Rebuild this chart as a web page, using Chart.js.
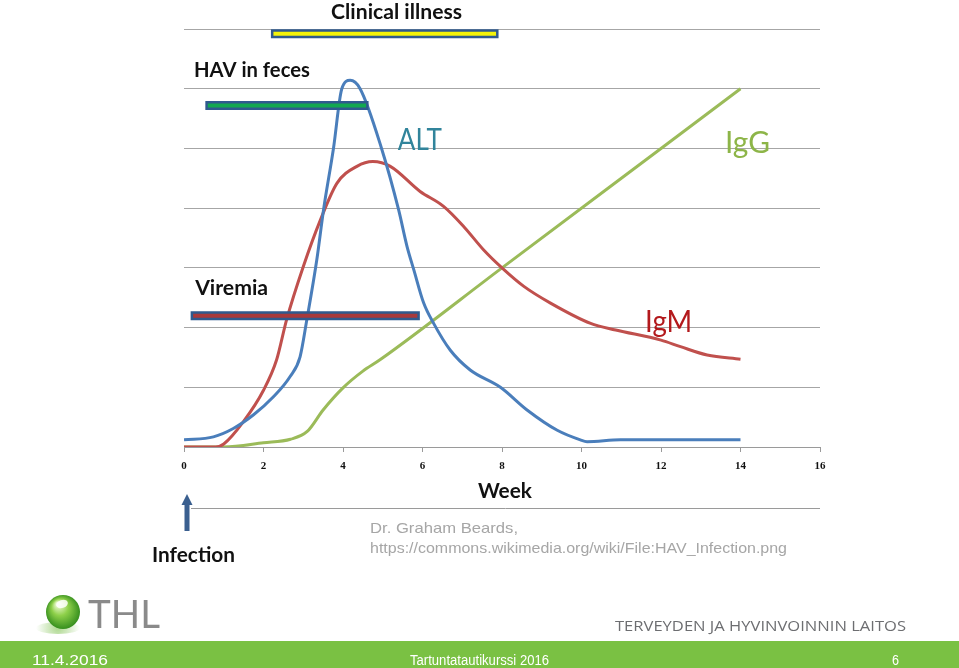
<!DOCTYPE html>
<html>
<head>
<meta charset="utf-8">
<script src="https://cdn.jsdelivr.net/npm/chart.js@4.4.1/dist/chart.umd.min.js"></script>
<style>
  html, body { margin: 0; padding: 0; background: #fff; }
  #wrap { position: relative; width: 959px; height: 668px; }
</style>
</head>
<body>
<div id="wrap"><canvas id="myChart"></canvas></div>
<script>
// weeks after infection / relative level
const altWeeks  = [0, 0.74, 1.24, 1.75, 2.25, 2.67, 2.92, 3.09, 3.34, 3.51, 3.76, 3.97, 4.18, 4.43, 4.97, 5.4, 5.61, 5.78, 6.03, 6.28, 6.7, 7.2, 7.96, 8.63, 9.39, 9.97, 10.14, 10.98, 12, 13, 14];
const altValues = [0.12, 0.17, 0.31, 0.54, 0.84, 1.18, 1.51, 2.13, 3.13, 3.97, 5.0, 6.0, 6.14, 6.0, 5.0, 3.97, 3.36, 2.97, 2.41, 2.07, 1.62, 1.29, 1.0, 0.62, 0.28, 0.12, 0.09, 0.12, 0.12, 0.12, 0.12];

const igmWeeks  = [0, 0.8, 1.0, 1.49, 2.0, 2.33, 2.58, 3.0, 3.43, 3.85, 4.35, 4.75, 5.19, 5.94, 6.53, 7.04, 7.54, 8.0, 8.55, 9.22, 10.23, 10.86, 12.0, 12.49, 13.16, 14];
const igmValues = [0, 0, 0.05, 0.42, 0.95, 1.46, 2.13, 3.02, 3.8, 4.42, 4.7, 4.78, 4.7, 4.28, 4.03, 3.69, 3.3, 3.0, 2.69, 2.41, 2.07, 1.96, 1.79, 1.68, 1.54, 1.47];

const iggWeeks  = [0, 1, 2, 2.68, 3.1, 3.5, 4, 4.5, 4.93, 8, 12, 14];
const iggValues = [0, 0, 0.07, 0.13, 0.26, 0.62, 0.99, 1.27, 1.46, 3.0, 5.0, 6.0];

// phase bars: clinical illness, HAV in feces, viremia
const barNames  = ['Clinical illness', 'HAV in feces', 'Viremia'];
const barStart  = [2.3, 0.65, 0.28];
const barEnd    = [7.8, 4.53, 5.82];
const barLevel  = [6.92, 5.72, 2.2];
const barColors = ['#F4F40A', '#12A850', '#A8393B'];

const xTicks = [0, 2, 4, 6, 8, 10, 12, 14, 16];

function pts(xs, ys) {
    return xs.map(function (x, i) { return { x: x, y: ys[i] }; });
}

// text squeezed/stretched to a given width (the slide used Calibri)
function fitText(ctx, text, x, y, font, color, width) {
    ctx.save();
    ctx.font = font;
    var w = ctx.measureText(text).width;
    var s = width ? width / w : 1;
    ctx.translate(x, y);
    ctx.scale(s, 1);
    ctx.fillStyle = color;
    ctx.textAlign = 'left';
    ctx.textBaseline = 'alphabetic';
    ctx.fillText(text, 0, 0);
    ctx.restore();
}

var datasets = [];
barNames.forEach(function (name, i) {
    datasets.push({
        label: name,
        data: [{ x: barStart[i], y: barLevel[i] }, { x: barEnd[i], y: barLevel[i] }],
        borderColor: barColors[i],
        borderWidth: 4,
        borderCapStyle: 'square',
        pointRadius: 0
    });
});
barNames.forEach(function (name, i) {
    datasets.push({
        label: name + ' border',
        data: [{ x: barStart[i], y: barLevel[i] }, { x: barEnd[i], y: barLevel[i] }],
        borderColor: '#2F5A8E',
        borderWidth: 9,
        borderCapStyle: 'square',
        pointRadius: 0
    });
});
datasets.push({ label: 'ALT', data: pts(altWeeks, altValues), borderColor: '#4A7EBB', borderWidth: 3, pointRadius: 0, cubicInterpolationMode: 'monotone' });
datasets.push({ label: 'IgM', data: pts(igmWeeks, igmValues), borderColor: '#C0504D', borderWidth: 3, pointRadius: 0, cubicInterpolationMode: 'monotone' });
datasets.push({ label: 'IgG', data: pts(iggWeeks, iggValues), borderColor: '#9BBB59', borderWidth: 3, pointRadius: 0, cubicInterpolationMode: 'monotone' });

// labels, arrow, source note and the THL footer
var slideText = {
    id: 'slideText',
    afterDraw: function (chart) {
        var ctx = chart.ctx;
        var x = chart.scales.x, y = chart.scales.y;
        var bold = 'bold 20px Lato';

        fitText(ctx, 'Clinical illness', x.getPixelForValue(3.7), y.getPixelForValue(7.16), bold, '#111', 131);
        fitText(ctx, 'HAV in feces', x.getPixelForValue(0.25), y.getPixelForValue(6.2), bold, '#111', 116);
        fitText(ctx, 'Viremia', x.getPixelForValue(0.28), y.getPixelForValue(2.55), bold, '#111', 73);
        fitText(ctx, 'ALT', x.getPixelForValue(5.38), y.getPixelForValue(4.97), '30px Lato', '#31849B', 44);
        fitText(ctx, 'IgG', x.getPixelForValue(13.61), y.getPixelForValue(4.93), '30px Lato', '#8DB548', 45);
        fitText(ctx, 'IgM', x.getPixelForValue(11.6), y.getPixelForValue(1.93), '30px Lato', '#B3191C', 47);

        fitText(ctx, 'Week', 478, 498, bold, '#111', 54);
        fitText(ctx, 'Infection', 152, 562, bold, '#111', 83);

        // infection arrow
        ctx.save();
        ctx.fillStyle = '#3A5F8F';
        ctx.fillRect(x.getPixelForValue(0) + 0.5, 504, 5, 27);
        ctx.beginPath();
        ctx.moveTo(x.getPixelForValue(0) - 2.5, 505);
        ctx.lineTo(x.getPixelForValue(0) + 3, 494);
        ctx.lineTo(x.getPixelForValue(0) + 8.5, 505);
        ctx.closePath();
        ctx.fill();
        ctx.restore();

        // light rule under the axis title
        ctx.save();
        ctx.strokeStyle = '#9A9A9A';
        ctx.lineWidth = 1;
        ctx.beginPath();
        ctx.moveTo(191, 508.5);
        ctx.lineTo(820, 508.5);
        ctx.stroke();
        ctx.restore();

        fitText(ctx, 'Dr. Graham Beards,', 370, 533, '15px "Liberation Sans"', '#A6A6A6', 148);
        fitText(ctx, 'https://commons.wikimedia.org/wiki/File:HAV_Infection.png', 370, 553, '15px "Liberation Sans"', '#A6A6A6', 417);

        // footer
        ctx.save();
        ctx.fillStyle = '#7AC143';
        ctx.fillRect(0, 641, 959, 27);
        ctx.restore();
        fitText(ctx, '11.4.2016', 32, 665, '14px "Liberation Sans"', '#fff', 76);
        fitText(ctx, 'Tartuntatautikurssi 2016', 410, 665, '14px "Liberation Sans"', '#fff', 139);
        fitText(ctx, '6', 892, 665, '14px "Liberation Sans"', '#fff', 7);
        fitText(ctx, 'TERVEYDEN JA HYVINVOINNIN LAITOS', 615, 631, '15px "Open Sans"', '#6D6E71', 291);

        // THL logo
        ctx.save();
        var sh = ctx.createRadialGradient(58, 628, 2, 58, 628, 22);
        sh.addColorStop(0, 'rgba(120,190,70,0.55)');
        sh.addColorStop(1, 'rgba(120,190,70,0)');
        ctx.fillStyle = sh;
        ctx.beginPath();
        ctx.ellipse(58, 628, 22, 6, 0, 0, Math.PI * 2);
        ctx.fill();
        var g = ctx.createRadialGradient(58, 604, 2, 63, 612, 18);
        g.addColorStop(0, '#E6F7C8');
        g.addColorStop(0.4, '#8ED04A');
        g.addColorStop(1, '#2F8A1A');
        ctx.fillStyle = g;
        ctx.beginPath();
        ctx.arc(63, 612, 17, 0, Math.PI * 2);
        ctx.fill();
        ctx.fillStyle = 'rgba(255,255,255,0.85)';
        ctx.beginPath();
        ctx.ellipse(62, 604, 6, 4, -0.3, 0, Math.PI * 2);
        ctx.fill();
        ctx.restore();
        fitText(ctx, 'THL', 88, 628, '39px Lato', '#8A8A8A', 72);
    }
};

var ctx = document.getElementById('myChart').getContext('2d');
var chart = new Chart(ctx, {
    type: 'line',
    data: { datasets: datasets },
    options: {
        responsive: true,
        maintainAspectRatio: false,
        animation: false,
        layout: { padding: { left: 184, right: 139, top: 29, bottom: 191 } },
        plugins: { legend: { display: false }, tooltip: { enabled: false } },
        scales: {
            x: {
                type: 'linear',
                min: 0,
                max: 16,
                afterBuildTicks: function (s) { s.ticks = xTicks.map(function (v) { return { value: v }; }); },
                afterFit: function (s) { s.height = 30; },
                ticks: { font: { family: 'Liberation Serif', weight: 'bold', size: 11 }, color: '#111', padding: 8, maxRotation: 0 },
                grid: { drawOnChartArea: false, drawTicks: true, tickLength: 5, color: '#9A9A9A' },
                border: { color: '#9A9A9A' }
            },
            y: {
                min: 0,
                max: 7,
                afterFit: function (s) { s.width = 0; },
                ticks: { display: false, stepSize: 1 },
                grid: { color: '#A6A6A6', drawTicks: false },
                border: { display: false }
            }
        }
    },
    plugins: [slideText]
});
</script>
</body>
</html>
